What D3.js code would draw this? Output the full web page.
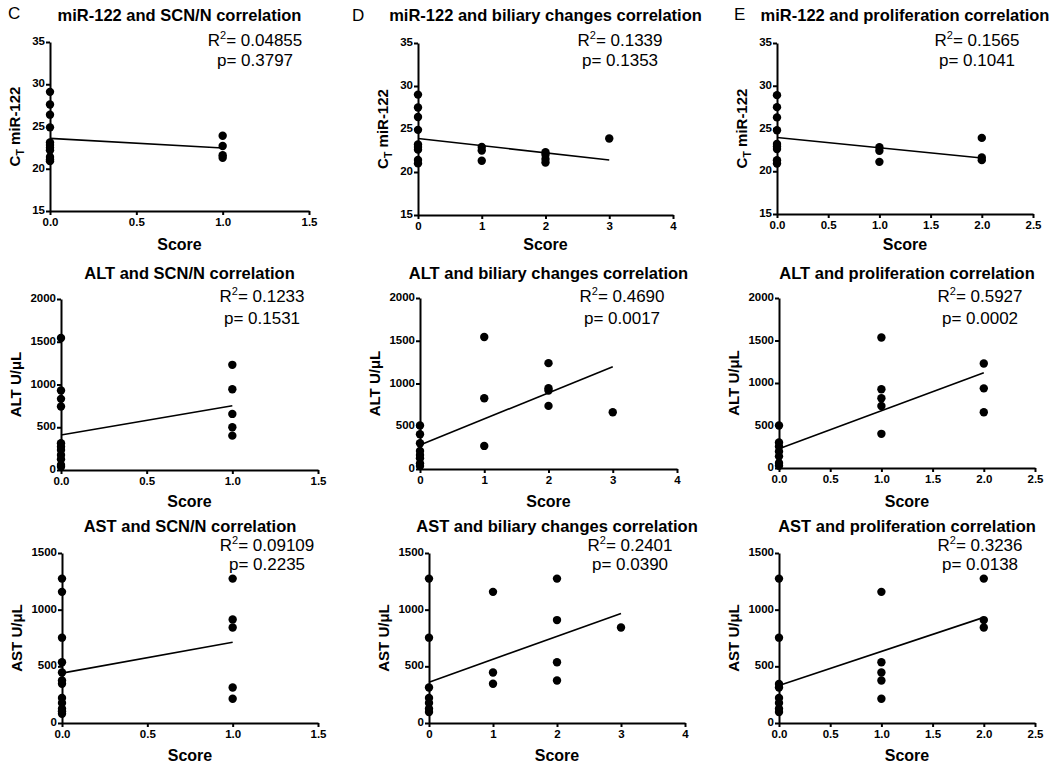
<!DOCTYPE html>
<html>
<head>
<meta charset="utf-8">
<script src="https://cdn.jsdelivr.net/npm/d3@7/dist/d3.min.js"></script>
<style>
html,body{margin:0;padding:0;background:#fff;}
svg{display:block;font-family:"Liberation Sans",Arial,sans-serif;}
</style>
</head>
<body>
<svg id="chart" width="1050" height="763"></svg>
<script>
// ---------- DATA ----------
const panelTitles = [
  "miR-122 and SCN/N correlation", "miR-122 and biliary changes correlation", "miR-122 and proliferation correlation",
  "ALT and SCN/N correlation", "ALT and biliary changes correlation", "ALT and proliferation correlation",
  "AST and SCN/N correlation", "AST and biliary changes correlation", "AST and proliferation correlation"
];
const panelLetters = ["C", "D", "E"];
const yLabels = ["miR-122", "ALT U/\u03bcL", "AST U/\u03bcL"];
const xLabel = "Score";

const xTicksScn = [0, 0.5, 1.0, 1.5];
const xTicksBil = [0, 1, 2, 3, 4];
const xTicksPro = [0, 0.5, 1.0, 1.5, 2.0, 2.5];
const yTicksMir = [15, 20, 25, 30, 35];
const yTicksAlt = [0, 500, 1000, 1500, 2000];
const yTicksAst = [0, 500, 1000, 1500];

const mirScn = [[0,29.1],[0,27.6],[0,26.4],[0,24.9],[0,23.1],[0,22.8],[0,22.5],[0,22.2],[0,21.4],[0,21.1],[0,20.9],
  [1,23.9],[1,22.7],[1,21.6],[1,21.3]];
const mirBil = [[0,29.0],[0,27.5],[0,26.4],[0,24.9],[0,23.2],[0,22.9],[0,22.6],[0,21.4],[0,21.0],
  [1,22.9],[1,22.5],[1,21.3],[2,22.3],[2,22.0],[2,21.5],[2,21.1],[3,23.9]];
const mirPro = [[0,28.9],[0,27.5],[0,26.3],[0,24.8],[0,23.2],[0,22.9],[0,22.6],[0,21.3],[0,20.9],
  [1,22.8],[1,22.4],[1,21.1],[2,23.9],[2,21.6],[2,21.3]];
const altScn = [[0,1543],[0,930],[0,832],[0,742],[0,312],[0,273],[0,234],[0,176],[0,125],[0,59],[0,39],
  [1,1230],[1,945],[1,656],[1,500],[1,402]];
const altBil = [[0,508],[0,406],[0,301],[0,211],[0,164],[0,125],[0,66],[0,35],
  [1,1543],[1,828],[1,270],[2,1238],[2,945],[2,918],[2,738],[3,664]];
const altPro = [[0,500],[0,301],[0,254],[0,195],[0,137],[0,59],[0,27],
  [1,1535],[1,926],[1,820],[1,730],[1,402],[2,1230],[2,937],[2,656]];
const astScn = [[0,1274],[0,1157],[0,753],[0,536],[0,445],[0,375],[0,346],[0,220],[0,176],[0,126],[0,103],[0,82],
  [1,1274],[1,914],[1,843],[1,313],[1,214]];
const astBil = [[0,1274],[0,753],[0,313],[0,220],[0,176],[0,126],[0,97],
  [1,1157],[1,445],[1,346],[2,1274],[2,908],[2,536],[2,375],[3,843]];
const astPro = [[0,1274],[0,753],[0,345],[0,313],[0,220],[0,176],[0,126],[0,97],
  [1,1157],[1,536],[1,445],[1,375],[1,214],[2,1274],[2,908],[2,843]];

// regression line: [x start, y start, x end, y end]
const fitLines = [
  [0,23.6,1,22.45],[0,23.9,3,21.4],[0,23.95,2,21.55],
  [0,410,1,752],[0,281,3,1195],[0,227,2,1121],
  [0,440,1,712],[0,360,3,967],[0,331,2,932]
];
const r2Values = ["0.04855","0.1339","0.1565","0.1233","0.4690","0.5927","0.09109","0.2401","0.3236"];
const pValues  = ["0.3797","0.1353","0.1041","0.1531","0.0017","0.0002","0.2235","0.0390","0.0138"];

// ---------- LAYOUT ----------
const pointSets = [mirScn, mirBil, mirPro, altScn, altBil, altPro, astScn, astBil, astPro];
const xTickSets = [xTicksScn, xTicksBil, xTicksPro];
const yTickSets = [yTicksMir, yTicksAlt, yTicksAst];
const xFormats = [d3.format(".1f"), d3.format("d"), d3.format(".1f")];
// plot rect [left, right, top, bottom]
const rects = [
  [50,309,42,211],[418,673,43,215],[777,1033,43,214],
  [61,318,299,470],[420,677,298,469],[779,1035,298,468],
  [62,318,553,723],[429,685,553,723],[779,1035,553,723]
];
const statX = [255,620,977,262,622,980,267,630,980];
const statY = [[46,66],[302,324],[551,570]];
const titleY = [21,279,532];
const scoreY = [250,507,761];
const yLabOff = [-35,-45,-45];
const letterPos = [[8,19],[352,21],[734,20]];

const svg = d3.select("#chart");

pointSets.forEach((pts, i) => {
  const row = Math.floor(i / 3), col = i % 3;
  const [L, R, T, B] = rects[i];
  const xt = xTickSets[col], yt = yTickSets[row];
  const x = d3.scaleLinear().domain([xt[0], xt[xt.length-1]]).range([L, R]);
  const y = d3.scaleLinear().domain([yt[0], yt[yt.length-1]]).range([B, T]);
  const g = svg.append("g");

  const xa = g.append("g").attr("transform", `translate(0,${B})`)
    .call(d3.axisBottom(x).tickValues(xt).tickFormat(xFormats[col]).tickSize(4).tickSizeOuter(0).tickPadding(3));
  const ya = g.append("g").attr("transform", `translate(${L},0)`)
    .call(d3.axisLeft(y).tickValues(yt).tickFormat(d3.format("d")).tickSize(4).tickSizeOuter(0).tickPadding(1));
  [xa, ya].forEach(a => {
    a.select(".domain").attr("stroke", "#000").attr("stroke-width", 2);
    a.selectAll(".tick line").attr("stroke", "#000").attr("stroke-width", 2);
    a.selectAll(".tick text").attr("fill", "#000").style("font-size", "11.5px").style("font-weight", "bold")
      .style("font-family", "'Liberation Sans',Arial,sans-serif");
  });
  ya.selectAll(".tick text").attr("dy", "0.22em");

  // regression line
  const f = fitLines[i];
  g.append("line").attr("x1", x(f[0])).attr("y1", y(f[1])).attr("x2", x(f[2])).attr("y2", y(f[3]))
    .attr("stroke", "#000").attr("stroke-width", 1.6);

  // points
  g.selectAll("circle.pt").data(pts).join("circle").attr("class", "pt")
    .attr("cx", d => x(d[0])).attr("cy", d => y(d[1])).attr("r", 4.2).attr("fill", "#000");

  // title
  g.append("text").attr("x", (L + R) / 2).attr("y", titleY[row]).attr("text-anchor", "middle")
    .style("font-size", "16.5px").style("font-weight", "bold").text(panelTitles[i]);

  // stats
  const r2 = g.append("text").attr("x", statX[i]).attr("y", statY[row][0]).attr("text-anchor", "middle")
    .style("font-size", "17px");
  r2.append("tspan").text("R");
  r2.append("tspan").attr("dy", -7).style("font-size", "11px").text("2");
  r2.append("tspan").attr("dy", 7).text("= " + r2Values[i]);
  g.append("text").attr("x", statX[i]).attr("y", statY[row][1]).attr("text-anchor", "middle")
    .style("font-size", "17px").text("p= " + pValues[i]);

  // x label
  g.append("text").attr("x", (L + R) / 2).attr("y", scoreY[row]).attr("text-anchor", "middle")
    .style("font-size", "16px").style("font-weight", "bold").text(xLabel);

  // y label
  const yl = g.append("text").attr("transform", `translate(${L + yLabOff[row] + 5},${(T + B) / 2}) rotate(-90)`)
    .attr("text-anchor", "middle").style("font-size", "15px").style("font-weight", "bold");
  if (row === 0) {
    yl.append("tspan").text("C");
    yl.append("tspan").attr("dy", 4).style("font-size", "10.5px").text("T");
    yl.append("tspan").attr("dy", -4).text(" " + yLabels[row]);
  } else {
    yl.text(yLabels[row]);
  }
});

panelLetters.forEach((t, i) => {
  svg.append("text").attr("x", letterPos[i][0]).attr("y", letterPos[i][1])
    .style("font-size", "17px").text(t);
});
</script>
</body>
</html>
